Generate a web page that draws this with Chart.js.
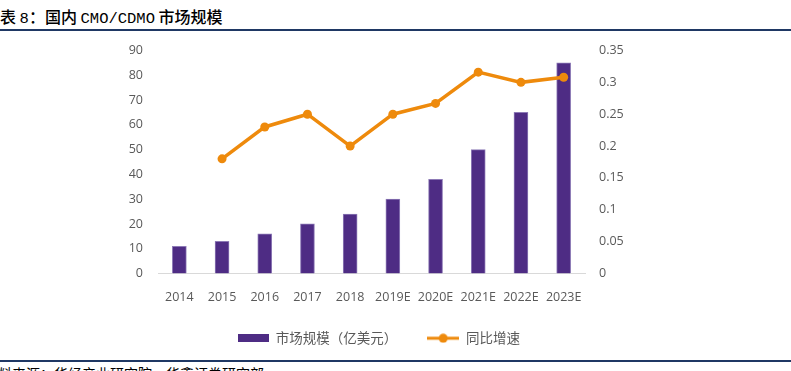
<!DOCTYPE html>
<html>
<head>
<meta charset="utf-8">
<script src="https://cdn.jsdelivr.net/npm/chart.js@4"></script>
<style>
  html, body { margin: 0; padding: 0; background: #fff; }
  body { width: 791px; height: 371px; position: relative; overflow: hidden; }
  .title { position: absolute; left: 0; top: 4px; font-family: "Noto Sans CJK SC", sans-serif; font-size: 16px; font-weight: 500; color: #000; white-space: nowrap; }
  .title .en { font-family: "Liberation Mono", monospace; font-size: 15.5px; }
  .rule { position: absolute; left: 0; width: 791px; height: 2px; background: #1f3864; }
  .source { position: absolute; left: -16px; top: 363px; font-family: "Noto Sans CJK SC", sans-serif; font-size: 14px; color: #000; white-space: nowrap; }
  .wrap { position: absolute; left: 0; top: 28px; width: 791px; height: 327px; }
</style>
</head>
<body>
<div class="title">表 <span class="en">8</span>：国内 <span class="en">CMO/CDMO</span> 市场规模</div>
<div class="rule" style="top:29px"></div>
<div class="rule" style="top:360px"></div>
<div class="source">资料来源：华经产业研究院，华鑫证券研究部</div>
<div class="wrap"><canvas id="chart"></canvas></div>
<script>
'use strict';

const years      = ['2014', '2015', '2016', '2017', '2018', '2019E', '2020E', '2021E', '2022E', '2023E'];
const marketSize = [11, 13, 16, 20, 24, 30, 38, 50, 65, 85];
const growth     = [null, 0.18, 0.23, 0.25, 0.20, 0.25, 0.267, 0.316, 0.30, 0.308];
const leftTicks  = [0, 10, 20, 30, 40, 50, 60, 70, 80, 90];
const rightTicks = [0, 0.05, 0.1, 0.15, 0.2, 0.25, 0.3, 0.35];

const PURPLE = '#4e2c84';
const ORANGE = '#ee8a0c';
const GREY   = '#595959';

// legend swatches
const barIcon = document.createElement('canvas');
barIcon.width = 31; barIcon.height = 8;
(() => {
  const c = barIcon.getContext('2d');
  c.fillStyle = PURPLE;
  c.fillRect(0, 0, 31, 8);
})();
const lineIcon = document.createElement('canvas');
lineIcon.width = 32; lineIcon.height = 10;
(() => {
  const c = lineIcon.getContext('2d');
  c.strokeStyle = ORANGE; c.lineWidth = 3;
  c.beginPath(); c.moveTo(0, 5); c.lineTo(32, 5); c.stroke();
  c.fillStyle = ORANGE;
  c.beginPath(); c.arc(16, 5, 4.5, 0, Math.PI * 2); c.fill();
})();

const tickFont = { family: '"Open Sans", sans-serif', size: 12.5 };

new Chart(document.getElementById('chart').getContext('2d'), {
  data: {
    labels: years,
    datasets: [
      {
        type: 'bar', label: '市场规模（亿美元）', data: marketSize, yAxisID: 'y', order: 1,
        backgroundColor: PURPLE, borderColor: '#8d7ab6', borderWidth: 1, barThickness: 14,
      },
      {
        type: 'line', label: '同比增速', data: growth, yAxisID: 'y1', order: 0,
        borderColor: ORANGE, backgroundColor: ORANGE, borderWidth: 3.5,
        pointRadius: 4.5, pointBackgroundColor: ORANGE, pointBorderWidth: 0, tension: 0,
      },
    ],
  },
  options: {
    responsive: true,
    maintainAspectRatio: false,
    animation: false,
    layout: { padding: { top: 0, left: 0, right: 34, bottom: 0 } },
    plugins: {
      tooltip: { enabled: false },
      legend: {
        position: 'bottom',
        labels: {
          usePointStyle: true,
          pointStyleWidth: 32,
          padding: 30,
          color: GREY,
          font: { family: '"Noto Sans CJK SC", sans-serif', size: 13.5 },
          sort: (a, b) => a.datasetIndex - b.datasetIndex,
          generateLabels: (chart) => Chart.defaults.plugins.legend.labels.generateLabels(chart).map((l) => {
            l.pointStyle = l.datasetIndex === 0 ? barIcon : lineIcon;
            return l;
          }),
        },
      },
    },
    scales: {
      x: {
        grid: { display: false, drawTicks: false },
        border: { display: true, color: '#d9d9d9', width: 1 },
        ticks: { color: GREY, font: tickFont, padding: 16, maxRotation: 0 },
        afterFit: (s) => { s.height = 28; },
      },
      y: {
        position: 'left', min: 0, max: 90,
        grid: { display: false, drawTicks: false },
        border: { display: false },
        ticks: { color: GREY, font: tickFont, padding: 15 },
        afterBuildTicks: (s) => { s.ticks = leftTicks.map((v) => ({ value: v })); },
        afterFit: (s) => { s.width = 158; },
      },
      y1: {
        position: 'right', min: 0, max: 0.35,
        grid: { display: false, drawTicks: false },
        border: { display: false },
        ticks: { color: GREY, font: tickFont, padding: 14, callback: (v) => String(+v.toFixed(2)) },
        afterBuildTicks: (s) => { s.ticks = rightTicks.map((v) => ({ value: v })); },
        afterFit: (s) => { s.width = 172; },
      },
    },
  },
});
</script>
</body>
</html>
